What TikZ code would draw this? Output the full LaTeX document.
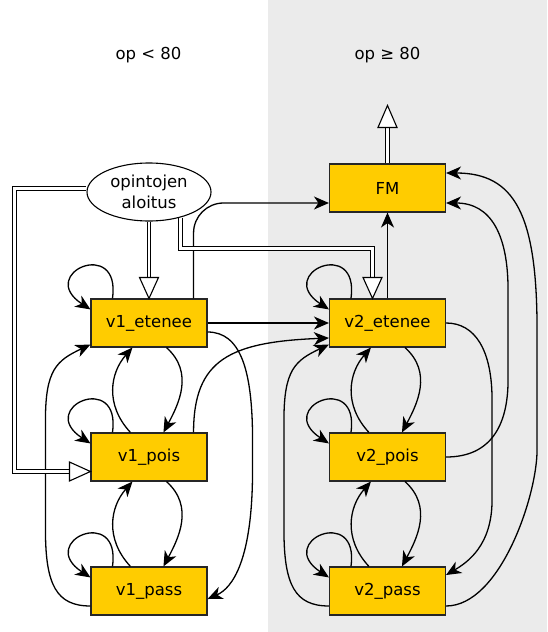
\documentclass[tikz,border=0pt]{standalone}
\usepackage{fontspec}
\setmainfont{DejaVu Sans}
\usetikzlibrary{shapes.geometric,arrows.meta,calc}
\definecolor{gold}{HTML}{FFCC00}
\definecolor{bggray}{HTML}{EBEBEB}
\begin{document}
\begin{tikzpicture}[x=1pt,y=-1pt,
  box/.style={draw=black!85, fill=gold, line width=1.1pt, minimum width=116pt, minimum height=48pt, inner sep=0pt, font=\fontsize{16.5}{19}\selectfont},
  arr/.style={line width=1.3pt, -{Stealth[length=15pt,width=13pt,inset=4.5pt]}},
  dbl/.style={line width=1.1pt, double=white, double distance=2.6pt},
  ohead/.style={draw, fill=white, line width=1.1pt, line join=miter},
  lbl/.style={font=\fontsize{16.5}{19}\selectfont}
]
\useasboundingbox (0,0) rectangle (547,632);
\fill[bggray] (268,0) rectangle (547,632);

\node[lbl] (t1) at (148.5,55) {op < 80};
\node[lbl] (t2) at (387.5,55) {op ≥ 80};

\node[box] (v1e) at (149,323) {v1\_etenee};
\node[box] (v1p) at (149,457) {v1\_pois};
\node[box] (v1s) at (149,591) {v1\_pass};
\node[box] (FM) at (387.5,188) {FM};
\node[box] (v2e) at (387.5,323) {v2\_etenee};
\node[box] (v2p) at (387.5,457) {v2\_pois};
\node[box] (v2s) at (387.5,591) {v2\_pass};
\node[ellipse, draw, fill=white, line width=1.1pt, minimum width=124pt, minimum height=58pt, inner sep=0pt, align=center, font=\fontsize{16.5}{21}\selectfont] (ell) at (149,192) {opintojen\\aloitus};

% self loops
\foreach \n in {v1e,v1p,v1s,v2e,v2p,v2s} {
  \draw[arr] ($(\n.north west)+(22,0)$) .. controls +(9,-62) and +(-55,-36) .. ($(\n.north west)+(0,11)$);
}
% vertical neighbour pairs
\foreach \ua/\ub in {v1e/v1p, v1p/v1s, v2e/v2p, v2p/v2s} {
  \draw[arr] ($(\ua.south west)+(76,0)$) .. controls +(28,25) and +(15,-28) .. ($(\ub.north west)+(73,0)$);
  \draw[arr] ($(\ub.north west)+(40,0)$) .. controls +(-26,-28) and +(-22,25) .. ($(\ua.south west)+(42,0)$);
}
% outer left curves: pass -> etenee
\foreach \us/\ue in {v1s/v1e, v2s/v2e} {
  \draw[arr] ($(\us.west)+(0,15)$) .. controls +(-34,0) and +(0,55) .. ($(\us.west)+(-45,-61)$)
    -- ($(\us.west)+(-45,-171)$) .. controls +(0,-50) and +(-34,16) .. ($(\ue.south west)+(0,-3)$);
}
% straight ones
\draw[arr] (v1e.east) -- (v2e.west);
\draw[arr] (v2e.north) -- (FM.south);
\draw[arr, rounded corners=30pt] ($(v1e.north east)+(-14,0)$) |- ($(FM.west)+(0,15)$);
% v1_pois -> v2_etenee
\draw[arr] ($(v1p.north east)+(-14,0)$) .. controls +(0,-73) and +(-99,4) .. ($(v2e.west)+(0,15)$);
% v1_etenee -> v1_pass (right)
\draw[arr] ($(v1e.east)+(0,9)$) .. controls +(33,0) and +(0,-70) .. ($(v1e.east)+(45,117)$)
  -- ($(v1s.east)+(45,-121)$) .. controls +(0,90) and +(25,-11) .. ($(v1s.east)+(0,8)$);
% v2_etenee -> v2_pass (right)
\draw[arr] (v2e.east) .. controls +(29,0) and +(0,-50) .. ($(v2e.east)+(46,77)$)
  -- ($(v2s.east)+(46,-91)$) .. controls +(0,45) and +(22,-13) .. ($(v2s.east)+(0,-16)$);
% v2_pois -> FM
\draw[arr] (v2p.east) .. controls +(45,0) and +(0,45) .. ($(v2p.east)+(62,-77)$)
  -- ($(FM.east)+(62,102)$) .. controls +(0,-55) and +(45,0) .. ($(FM.east)+(0,15)$);
% v2_pass -> FM
\draw[arr] ($(v2s.east)+(0,15)$) .. controls +(54,0) and +(0,46) .. ($(v2s.east)+(91,-141)$)
  -- ($(FM.east)+(91,142)$) .. controls +(0,-115) and +(69,0) .. ($(FM.east)+(0,-15)$);

% double (entry/exit) arrows
\coordinate (dL1) at (14.5,188.5);
\coordinate (dL2) at (14.5,471.5);
\draw[dbl] (ell.west |- dL1) -- (dL1) -- (dL2) -- ($(v1p.west |- dL2)+(-21,0)$);
\draw[ohead] (v1p.west |- dL2) -- ++(-21,-9.5) -- ++(0,19) -- cycle;

\draw[dbl] (ell.south) -- ($(v1e.north)+(0,-21)$);
\draw[ohead] (v1e.north) -- ++(-9.5,-21) -- ++(19,0) -- cycle;

\coordinate (dR1) at (179.5,248.5);
\coordinate (dR2) at (372.5,248.5);
\draw[dbl] (ell.-39) -- (ell.-39 |- dR1) -- (dR2) -- ($(v2e.north -| dR2)+(0,-21)$);
\draw[ohead] (v2e.north -| dR2) -- ++(-9.5,-21) -- ++(19,0) -- cycle;

\coordinate (exitpt) at ($(FM.north)+(0,-58)$);
\draw[dbl] (FM.north) -- ($(exitpt)+(0,22)$);
\draw[ohead] (exitpt) -- ++(-9.5,22) -- ++(19,0) -- cycle;
\end{tikzpicture}
\end{document}
